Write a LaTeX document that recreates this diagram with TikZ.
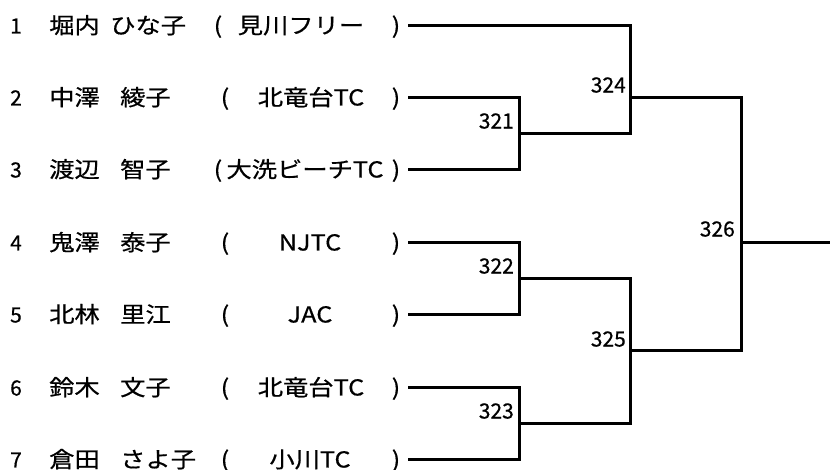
\documentclass[tikz,border=0pt]{standalone}
\usepackage{fontspec}
\setmainfont[FakeStretch=1.15,FakeBold=0.6]{Noto Sans CJK JP}
\newfontfamily\numfont[FakeBold=0.6]{Noto Sans CJK JP}
\usetikzlibrary{positioning}

\begin{document}
\begin{tikzpicture}[x=1pt,y=-1pt,
  txt/.style={inner sep=0pt,anchor=base,yshift=-7.5pt,font=\fontsize{22}{26}\selectfont},
  txtw/.style={txt,anchor=base west},
  num/.style={txt,font=\numfont\fontsize{21}{25}\selectfont},
  score/.style={inner sep=0pt,font=\numfont\fontsize{21}{25}\selectfont},
  line/.style={line width=3pt}]
  \useasboundingbox (0,0) rectangle (831,470);
  % players
  \node[num] (n1) at (16,26) {1};
  \node[txtw] (a1) at (49,26) {堀内};
  \node[txtw] (b1) at (110,26) {ひな子};
  \node[txt] (l1) at (218,26) {(};
  \node[txt] (c1) at (301,26) {見川フリー};
  \node[txt] (r1) at (396,26) {)};

  \node[num] (n2) at (16,98) {2};
  \node[txtw] (a2) at (49,98) {中澤};
  \node[txtw] (b2) at (120,98) {綾子};
  \node[txt] (l2) at (225,98) {(};
  \node[txt] (c2) at (311,98) {北竜台TC};
  \node[txt] (r2) at (396,98) {)};

  \node[num] (n3) at (16,170) {3};
  \node[txtw] (a3) at (49,170) {渡辺};
  \node[txtw] (b3) at (120,170) {智子};
  \node[txt] (l3) at (218,170) {(};
  \node[txt] (c3) at (305,170) {大洗ビーチTC};
  \node[txt] (r3) at (396,170) {)};

  \node[num] (n4) at (16,243) {4};
  \node[txtw] (a4) at (49,243) {鬼澤};
  \node[txtw] (b4) at (120,243) {泰子};
  \node[txt] (l4) at (225,243) {(};
  \node[txt] (c4) at (310,243) {NJTC};
  \node[txt] (r4) at (396,243) {)};

  \node[num] (n5) at (16,315) {5};
  \node[txtw] (a5) at (49,315) {北林};
  \node[txtw] (b5) at (120,315) {里江};
  \node[txt] (l5) at (225,315) {(};
  \node[txt] (c5) at (310,315) {JAC};
  \node[txt] (r5) at (396,315) {)};

  \node[num] (n6) at (16,388) {6};
  \node[txtw] (a6) at (49,388) {鈴木};
  \node[txtw] (b6) at (120,388) {文子};
  \node[txt] (l6) at (225,388) {(};
  \node[txt] (c6) at (311,388) {北竜台TC};
  \node[txt] (r6) at (396,388) {)};

  \node[num] (n7) at (16,460) {7};
  \node[txtw] (a7) at (49,460) {倉田};
  \node[txtw] (b7) at (120,460) {さよ子};
  \node[txt] (l7) at (225,460) {(};
  \node[txt] (c7) at (310,460) {小川TC};
  \node[txt] (r7) at (396,460) {)};

  % line starts
  \coordinate (s1) at (408,26);
  \coordinate (s2) at (408,98);
  \coordinate (s3) at (408,170);
  \coordinate (s4) at (408,243);
  \coordinate (s5) at (408,315);
  \coordinate (s6) at (408,388);
  \coordinate (s7) at (408,460);

  % matches
  \coordinate (m321) at (519,134);
  \coordinate (m322) at (519,279);
  \coordinate (m323) at (519,424);
  \coordinate (m324) at (630,98);
  \coordinate (m325) at (630,351);
  \coordinate (m326) at (741,243);
  \coordinate (win) at (830,243);

  \node[score,above left=5pt and 5pt of m321] (t321) {321};
  \node[score,above left=5pt and 5pt of m322] (t322) {322};
  \node[score,above left=5pt and 5pt of m323] (t323) {323};
  \node[score,above left=5pt and 4pt of m324] (t324) {324};
  \node[score,above left=4pt and 4pt of m325] (t325) {325};
  \node[score,above left=6pt and 6pt of m326] (t326) {326};

  \draw[line] (s1) -| (m324);
  \draw[line] (s2) -| (m321);
  \draw[line] (s3) -| (m321);
  \draw[line] (s4) -| (m322);
  \draw[line] (s5) -| (m322);
  \draw[line] (s6) -| (m323);
  \draw[line] (s7) -| (m323);
  \draw[line] (m321) -| (m324);
  \draw[line] (m322) -| (m325);
  \draw[line] (m323) -| (m325);
  \draw[line] (m324) -| (m326);
  \draw[line] (m325) -| (m326);
  \draw[line] (m326) -- (win);
\end{tikzpicture}
\end{document}
